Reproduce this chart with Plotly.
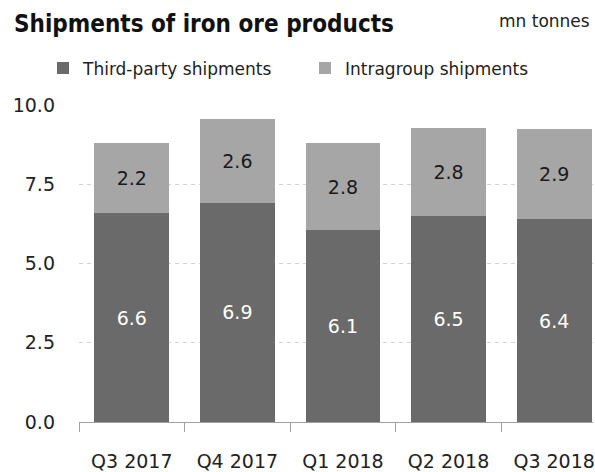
import plotly.graph_objects as go

categories = ["Q3 2017", "Q4 2017", "Q1 2018", "Q2 2018", "Q3 2018"]
third_party = [6.58, 6.91, 6.05, 6.49, 6.39]
intragroup = [2.22, 2.65, 2.75, 2.79, 2.86]
third_party_labels = ["6.6", "6.9", "6.1", "6.5", "6.4"]
intragroup_labels = ["2.2", "2.6", "2.8", "2.8", "2.9"]
y_ticks = [0, 2.5, 5, 7.5, 10]

FONT = "DejaVu Sans"
W, H = 595, 472
L, R, T, B = 79, 0, 105, 49
cat_px = 106.0
plot_w = W - L - R
plot_h = H - T - B

fig = go.Figure()
fig.add_trace(go.Bar(
    x=categories, y=third_party, name="Third-party shipments",
    marker=dict(color="#6a6a6a", line=dict(width=0)),
    text=third_party_labels, textposition="inside", insidetextanchor="middle",
    textfont=dict(family=FONT, size=19, color="#ffffff"),
    constraintext="none", legend="legend",
))
fig.add_trace(go.Bar(
    x=categories, y=intragroup, name="Intragroup shipments",
    marker=dict(color="#a6a6a6", line=dict(width=0)),
    text=intragroup_labels, textposition="inside", insidetextanchor="middle",
    textfont=dict(family=FONT, size=19, color="#1a1a1a"),
    constraintext="none", legend="legend2",
))

legend_common = dict(
    orientation="h", xref="container", yref="container",
    xanchor="left", y=1 - 68.5 / H, yanchor="middle",
    font=dict(family=FONT, size=17, color="#222222"),
    bgcolor="rgba(0,0,0,0)", itemclick=False,
)

fig.update_layout(
    width=W, height=H,
    margin=dict(l=L, r=R, t=T, b=B, pad=0),
    barmode="stack", bargap=1 - 75 / cat_px,
    plot_bgcolor="white", paper_bgcolor="white",
    font=dict(family=FONT, size=19, color="#222222"),
    title=dict(
        text="<b>Shipments of iron ore products</b>",
        font=dict(family="DejaVu Sans Condensed, DejaVu Sans", size=24, color="#111111"),
        xref="container", x=14 / W, xanchor="left",
        yref="container", y=1 - 23.5 / H, yanchor="middle",
    ),
    legend=dict(legend_common, x=43 / W),
    legend2=dict(legend_common, x=305 / W),
    showlegend=True,
    xaxis=dict(
        range=[-0.5, -0.5 + plot_w / cat_px],
        showline=True, linecolor="#a0a0a0", linewidth=1,
        ticks="outside", tickson="boundaries", ticklen=9, tickcolor="#a0a0a0",
        showgrid=False, fixedrange=True,
        tickfont=dict(family=FONT, size=19, color="#222222"),
        ticklabelstandoff=22,
    ),
    yaxis=dict(
        range=[0, 10], tickvals=y_ticks, tickformat=".1f",
        showgrid=True, gridcolor="#d4d4d4", griddash="4px,4px", gridwidth=1,
        zeroline=False, showline=False, ticks="",
        tickfont=dict(family=FONT, size=19, color="#222222"),
        ticklabelstandoff=23, fixedrange=True,
    ),
    annotations=[dict(
        text="mn tonnes", xref="paper", yref="paper",
        x=(594 - L) / plot_w, xanchor="right",
        y=(H - B - 21) / plot_h, yanchor="middle", showarrow=False,
        font=dict(family=FONT, size=17, color="#222222"),
    )],
)

fig.write_html("out.html")
